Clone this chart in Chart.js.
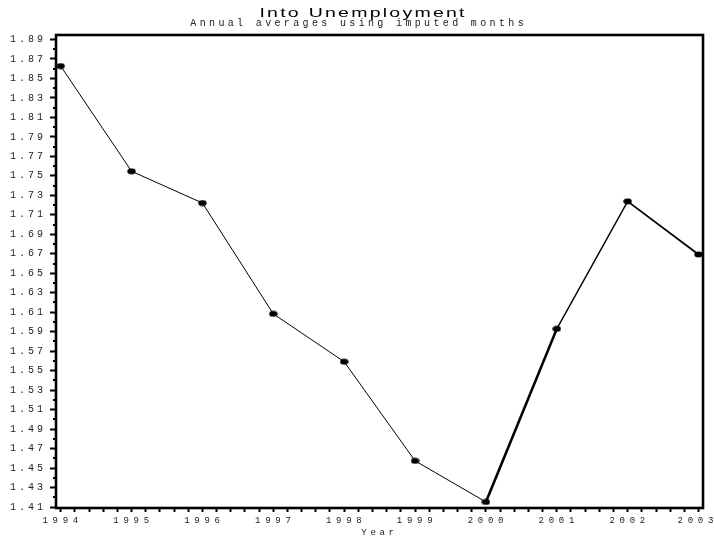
<!DOCTYPE html>
<html>
<head>
<meta charset="utf-8">
<title>Into Unemployment</title>
<script src="https://cdn.jsdelivr.net/npm/chart.js@4/dist/chart.umd.min.js"></script>
<style>
  html, body { margin: 0; padding: 0; background: #fff; }
  #wrap { position: relative; width: 714px; height: 542px; overflow: hidden; }
  #chart { position: absolute; left: 0; top: 0; }
  .head { position: absolute; width: 714px; text-align: center; white-space: nowrap; color: #000; }
  #title {
    left: 5px; top: 5.8px;
    font: 13px/13px "Liberation Sans", Arial, sans-serif;
    letter-spacing: 1.5px; padding-left: 1.5px; box-sizing: border-box;
    transform: scaleX(1.5); transform-origin: 50% 0;
  }
  #subtitle {
    left: 0; top: 18.8px;
    font: 10px/10px "Liberation Mono", monospace;
    letter-spacing: 3.35px; padding-left: 3.35px; box-sizing: border-box;
    color: #222;
  }
</style>
</head>
<body>
<div id="wrap">
  <canvas id="chart" width="714" height="542"></canvas>
  <div class="head" id="title">Into Unemployment</div>
  <div class="head" id="subtitle">Annual averages using imputed months</div>
</div>
<script>
// Annual averages of flows into unemployment
const years = [1994, 1995, 1996, 1997, 1998, 1999, 2000, 2001, 2002, 2003];
const values = [1.8627, 1.7547, 1.7221, 1.6083, 1.5592, 1.4574, 1.4152, 1.5929, 1.7238, 1.6693];

// Axis tick labels
const yTickLabels = ['1.41', '1.43', '1.45', '1.47', '1.49', '1.51', '1.53', '1.55', '1.57',
  '1.59', '1.61', '1.63', '1.65', '1.67', '1.69', '1.71', '1.73', '1.75', '1.77', '1.79',
  '1.81', '1.83', '1.85', '1.87', '1.89'];
const xTickLabels = ['1994', '1995', '1996', '1997', '1998', '1999', '2000', '2001', '2002', '2003'];

// Stroke widths of the line between consecutive years
const segWidths = [1, 1, 1, 1, 1, 1, 2.6, 1.4, 1.8];

const yMajor = yTickLabels.map(Number);
const yMinor = yMajor.slice(0, -1).map(v => +(v + 0.01).toFixed(2));
const xMajor = xTickLabels.map(Number);
const xAll = [];
xMajor.forEach((yr, i) => {
  xAll.push(yr);
  if (i < xMajor.length - 1) for (let k = 1; k < 5; k++) xAll.push(+(yr + k * 0.2).toFixed(1));
});

// Filled elliptical marker
const dot = document.createElement('canvas');
dot.width = 9; dot.height = 7;
(() => {
  const g = dot.getContext('2d');
  g.fillStyle = '#000';
  g.beginPath();
  g.ellipse(4.5, 3.5, 4.2, 3, 0, 0, Math.PI * 2);
  g.fill();
})();

const FONT_MONO = '"Liberation Mono", monospace';
const spacing = {
  x: { labels: '4.7px', title: '3.7px' },
  y: { labels: '3px', title: '0px' }
};

// Per-axis letter spacing for the monospaced labels; the last year label
// is kept inside the canvas by right-aligning it at the edge.
const spacingPlugin = {
  id: 'axisSpacing',
  afterLayout(chart) {
    Object.values(chart.scales).forEach(s => {
      if (s._spaced) return;
      s._spaced = true;
      const cfg = spacing[s.id];
      ['drawLabels', 'drawTitle'].forEach((name, i) => {
        const orig = s[name];
        const sp = i === 0 ? cfg.labels : cfg.title;
        s[name] = function (...args) {
          const c = this.ctx;
          const prev = c.letterSpacing;
          c.letterSpacing = sp;
          orig.apply(this, args);
          c.letterSpacing = prev || '0px';
        };
      });
      if (s.id === 'x' && typeof s._computeLabelItems === 'function') {
        const compute = s._computeLabelItems;
        s._computeLabelItems = function (...args) {
          const items = compute.apply(this, args);
          const last = items[items.length - 1];
          if (last && last.options && last.options.translation) {
            last.options.textAlign = 'right';
            last.options.translation[0] = chart.width + 4;
          }
          return items;
        };
      }
    });
  }
};

// Plot frame and the short half-step ticks on the value axis
const framePlugin = {
  id: 'frame',
  beforeDatasetsDraw(chart) {
    const { ctx, chartArea: a, scales: { y } } = chart;
    ctx.save();
    ctx.strokeStyle = '#000';
    ctx.lineWidth = 2;
    ctx.beginPath();
    yMinor.forEach(v => {
      const py = Math.round(y.getPixelForValue(v));
      ctx.moveTo(a.left - 3, py);
      ctx.lineTo(a.left, py);
    });
    ctx.stroke();
    ctx.lineWidth = 2.6;
    ctx.strokeRect(a.left, a.top, a.right - a.left, a.bottom - a.top);
    ctx.restore();
  }
};

new Chart(document.getElementById('chart'), {
  type: 'line',
  data: {
    datasets: [{
      data: years.map((yr, i) => ({ x: yr, y: values[i] })),
      borderColor: '#000',
      borderWidth: 1,
      tension: 0,
      fill: false,
      pointStyle: dot,
      pointRadius: 4,
      pointBackgroundColor: '#000',
      pointBorderColor: '#000',
      clip: false,
      segment: { borderWidth: c => segWidths[c.p0DataIndex] }
    }]
  },
  options: {
    responsive: false,
    animation: false,
    events: [],
    layout: { padding: { top: 35, right: 11, left: 0, bottom: 0 } },
    plugins: { legend: { display: false }, tooltip: { enabled: false }, title: { display: false } },
    scales: {
      x: {
        type: 'linear',
        min: 1993.934,
        max: 2003.063,
        afterBuildTicks: s => { s.ticks = xAll.map(v => ({ value: v })); },
        afterFit: s => { s.height = 34; s.paddingLeft = 0; s.paddingRight = 0; },
        ticks: {
          autoSkip: false,
          maxRotation: 0,
          padding: 3,
          labelOffset: 2,
          color: '#222',
          font: { family: FONT_MONO, size: 9 },
          callback: v => {
            const i = xMajor.findIndex(m => Math.abs(m - v) < 1e-6);
            return i >= 0 ? xTickLabels[i] : '';
          }
        },
        grid: { drawOnChartArea: false, drawTicks: true, tickLength: 4, tickWidth: 2, tickColor: '#000' },
        border: { display: false },
        title: {
          display: true,
          text: 'Year',
          color: '#222',
          font: { family: FONT_MONO, size: 9 },
          padding: { top: 0, bottom: 4 }
        }
      },
      y: {
        type: 'linear',
        min: 1.409,
        max: 1.8946,
        afterBuildTicks: s => { s.ticks = yMajor.map(v => ({ value: v })); },
        afterFit: s => { s.width = 56; s.paddingTop = 0; s.paddingBottom = 0; },
        ticks: {
          autoSkip: false,
          padding: 4,
          color: '#222',
          font: { family: FONT_MONO, size: 10 },
          callback: v => {
            const i = yMajor.findIndex(m => Math.abs(m - v) < 1e-6);
            return i >= 0 ? yTickLabels[i] : '';
          }
        },
        grid: { drawOnChartArea: false, drawTicks: true, tickLength: 6, tickWidth: 2, tickColor: '#000' },
        border: { display: false }
      }
    }
  },
  plugins: [spacingPlugin, framePlugin]
});
</script>
</body>
</html>
